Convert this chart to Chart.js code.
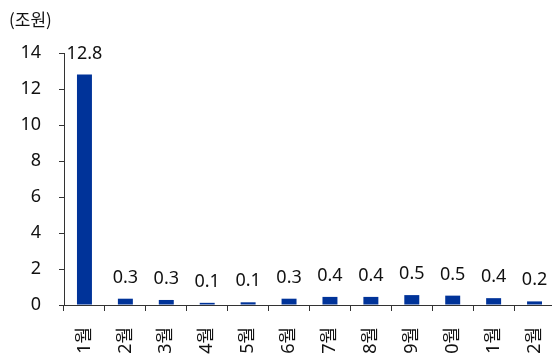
<!DOCTYPE html>
<html>
<head>
<meta charset="utf-8">
<script src="https://cdn.jsdelivr.net/npm/chart.js@4/dist/chart.umd.min.js"></script>
<style>
  html, body { margin: 0; padding: 0; background: #fff; overflow: hidden; }
  #wrap { position: relative; width: 552px; height: 354px; overflow: hidden; }
  #unit { position: absolute; left: 9px; top: 6px; font: 17px "Noto Sans CJK KR", "Noto Sans", sans-serif; color: #111; }
</style>
</head>
<body>
<div id="wrap">
  <canvas id="myChart" width="555" height="354"></canvas>
  <div id="unit">(조원)</div>
</div>
<script>
const months = ["1월", "2월", "3월", "4월", "5월", "6월", "7월", "8월", "9월", "10월", "11월", "12월"];
const amounts = [12.8, 0.3, 0.3, 0.1, 0.1, 0.3, 0.4, 0.4, 0.5, 0.5, 0.4, 0.2];
// bar heights a bit off the rounded labels, as drawn
const barValues = [12.8, 0.35, 0.28, 0.12, 0.15, 0.35, 0.45, 0.45, 0.55, 0.52, 0.38, 0.2];
const yMax = 14;
const yStep = 2;

const fontFamily = '"Noto Sans", "Noto Sans CJK KR", sans-serif';

const valueLabels = {
  id: "valueLabels",
  afterDatasetsDraw(chart) {
    const c = chart.ctx;
    const meta = chart.getDatasetMeta(0);
    c.save();
    c.font = "18px " + fontFamily;
    c.fillStyle = "#111";
    c.textAlign = "center";
    c.textBaseline = "alphabetic";
    for (let i = 0; i < meta.data.length; i++) {
      const bar = meta.data[i];
      c.fillText(amounts[i].toFixed(1), bar.x, bar.y - 16);
    }
    c.restore();
  }
};

const ctx = document.getElementById("myChart");
new Chart(ctx, {
  type: "bar",
  data: {
    labels: months,
    datasets: [{
      data: barValues,
      backgroundColor: "#003399",
      barPercentage: 0.366,
      categoryPercentage: 1
    }]
  },
  options: {
    responsive: false,
    animation: false,
    layout: { padding: { top: 53, right: 0, left: 0, bottom: 0 } },
    plugins: { legend: { display: false }, tooltip: { enabled: false } },
    scales: {
      x: {
        offset: true,
        afterFit(axis) {
          axis.height = 49;
          axis.paddingLeft = 0;
          axis.paddingRight = 0;
        },
        grid: { offset: true, drawOnChartArea: false, drawTicks: true, tickLength: 6, color: "#333" },
        border: { color: "#333" },
        ticks: {
          minRotation: 90, maxRotation: 90, autoSkip: false, padding: 16,
          color: "#111", font: { family: fontFamily, size: 18 }
        }
      },
      y: {
        min: 0, max: yMax,
        afterFit(axis) { axis.width = 64; },
        grid: { drawOnChartArea: false, drawTicks: true, tickLength: 5, color: "#333" },
        border: { color: "#333" },
        ticks: {
          stepSize: yStep, padding: 18,
          color: "#111", font: { family: fontFamily, size: 18 }
        }
      }
    }
  },
  plugins: [valueLabels]
});
</script>
</body>
</html>
